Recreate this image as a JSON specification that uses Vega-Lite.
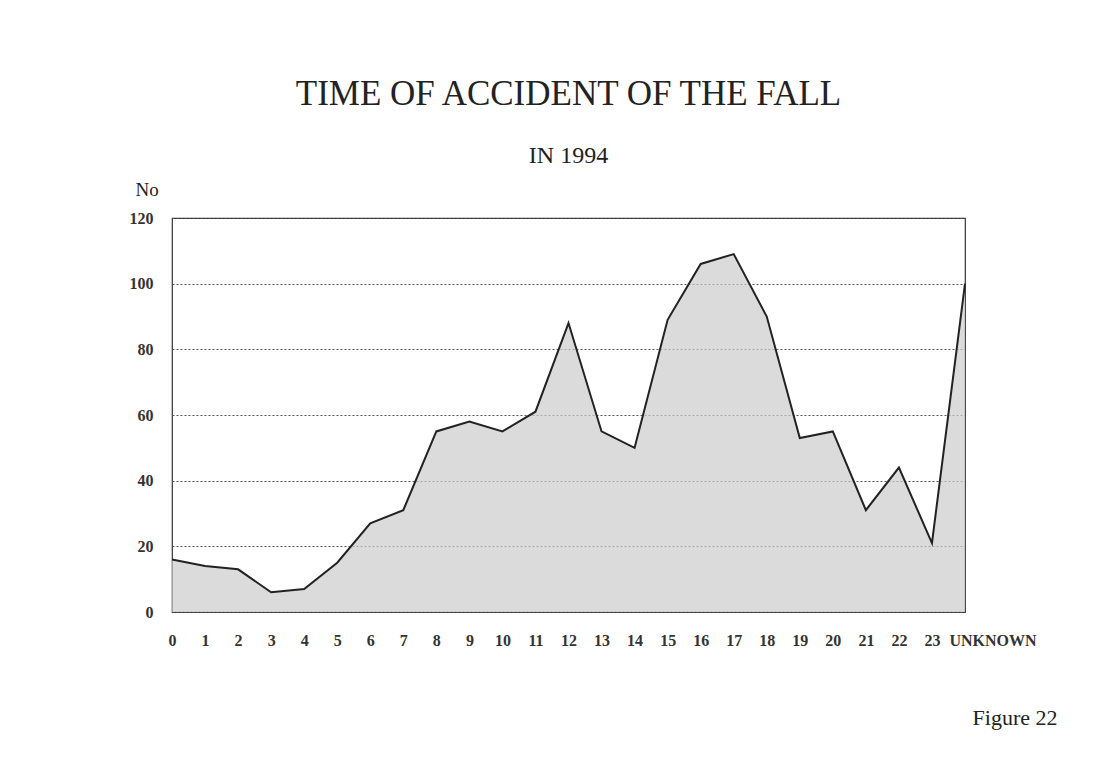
{
  "$schema": "https://vega.github.io/schema/vega-lite/v6.json",
  "width": 793,
  "height": 394,
  "autosize": {"type": "none"},
  "padding": {"left": 172, "top": 218, "right": 155, "bottom": 149},
  "background": "white",
  "title": {
    "text": "TIME OF ACCIDENT OF THE FALL",
    "subtitle": "IN 1994",
    "font": "Liberation Serif",
    "fontSize": 35,
    "fontWeight": "normal",
    "color": "#222",
    "subtitleFont": "Liberation Serif",
    "subtitleFontSize": 24,
    "subtitleFontWeight": "normal",
    "subtitleColor": "#222",
    "subtitlePadding": 32,
    "anchor": "middle",
    "offset": 12
  },
  "data": {
    "values": [
      {"hour": "0", "count": 16},
      {"hour": "1", "count": 14},
      {"hour": "2", "count": 13},
      {"hour": "3", "count": 6},
      {"hour": "4", "count": 7},
      {"hour": "5", "count": 15},
      {"hour": "6", "count": 27},
      {"hour": "7", "count": 31},
      {"hour": "8", "count": 55},
      {"hour": "9", "count": 58},
      {"hour": "10", "count": 55},
      {"hour": "11", "count": 61},
      {"hour": "12", "count": 88},
      {"hour": "13", "count": 55},
      {"hour": "14", "count": 50},
      {"hour": "15", "count": 89},
      {"hour": "16", "count": 106},
      {"hour": "17", "count": 109},
      {"hour": "18", "count": 90},
      {"hour": "19", "count": 53},
      {"hour": "20", "count": 55},
      {"hour": "21", "count": 31},
      {"hour": "22", "count": 44},
      {"hour": "23", "count": 21},
      {"hour": "UNKNOWN", "count": 100}
    ]
  },
  "mark": {
    "type": "area",
    "fill": "#cccccc",
    "line": {"stroke": "#222", "strokeWidth": 2}
  },
  "encoding": {
    "x": {
      "field": "hour",
      "type": "ordinal",
      "sort": null,
      "scale": {"type": "point", "padding": 0},
      "axis": {
        "title": "Figure 22",
        "titleFont": "Liberation Serif",
        "titleFontSize": 22,
        "titleFontWeight": "normal",
        "titleColor": "#222",
        "titleAnchor": "end",
        "titleAlign": "right",
        "titleBaseline": "alphabetic",
        "titleX": 885,
        "titleY": 112,
        "labelAngle": 0,
        "labelFont": "Liberation Serif",
        "labelFontSize": 16,
        "labelFontWeight": "bold",
        "labelColor": "#333",
        "labelPadding": 20,
        "labelAlign": {"expr": "datum.value == 'UNKNOWN' ? 'left' : 'center'"},
        "labelOffset": {"expr": "datum.value == 'UNKNOWN' ? -16 : 0"},
        "labelOverlap": false,
        "labelBound": false,
        "labelFlush": false,
        "ticks": false,
        "domain": false,
        "grid": false
      }
    },
    "y": {
      "field": "count",
      "type": "quantitative",
      "scale": {"domain": [0, 120], "nice": false},
      "axis": {
        "values": [0, 20, 40, 60, 80, 100, 120],
        "title": "No",
        "titleAngle": 0,
        "titleFont": "Liberation Serif",
        "titleFontSize": 19,
        "titleFontWeight": "normal",
        "titleColor": "#222",
        "titleAlign": "left",
        "titleBaseline": "alphabetic",
        "titleX": -37,
        "titleY": -23,
        "labelFont": "Liberation Serif",
        "labelFontSize": 16,
        "labelFontWeight": "bold",
        "labelColor": "#333",
        "labelPadding": 19,
        "labelFlush": false,
        "ticks": false,
        "domain": false,
        "grid": true,
        "gridColor": "#555",
        "gridDash": [2, 2],
        "gridWidth": 1
      }
    }
  },
  "config": {
    "view": {"stroke": "#333", "strokeWidth": 1.2}
  }
}
